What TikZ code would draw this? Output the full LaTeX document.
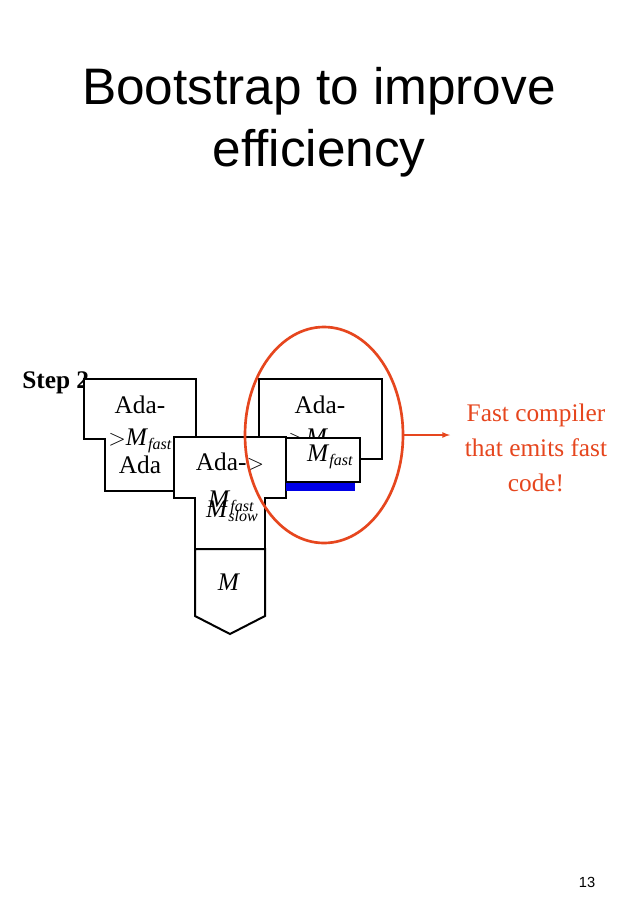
\documentclass[tikz,border=0pt]{standalone}
\usepackage{fontspec}
\setmainfont{Liberation Serif}
\newfontfamily\hel{Liberation Sans}
\definecolor{orng}{RGB}{230,70,30}
\definecolor{bbar}{RGB}{0,0,230}
\newcommand{\Msub}[1]{\textit{M}\raisebox{-0.35ex}{\fontsize{12}{12}\selectfont\textit{#1}}}
\begin{document}
\begin{tikzpicture}[x=0.75pt,y=-0.75pt,
  shp/.style={draw=black,line width=1.5pt,fill=white},
  lbl/.style={inner sep=0pt,font=\fontsize{19}{20}\selectfont},
  red/.style={inner sep=0pt,text=orng,font=\fontsize{19}{26}\selectfont,align=center}]
\useasboundingbox[fill=white] (0,0) rectangle (638,922);
\node[inner sep=0pt,font=\hel\fontsize{38.5}{46.5}\selectfont,align=center] (title) at (319,122) {Bootstrap to improve\\efficiency};
\node[inner sep=0pt,font=\hel\fontsize{11}{13}\selectfont] (pg) at (587,882) {13};
\node[lbl,font=\bfseries\fontsize{19}{20}\selectfont,anchor=west] (step) at (22,383) {Step 2};
% left T
\draw[shp] (84,379)--(196,379)--(196,491)--(105,491)--(105,439)--(84,439)--cycle;
\node[lbl] (l1) at (140,405) {Ada-};
\node[lbl] (l2) at (140,441) {$>$\Msub{fast}};
\node[lbl] (l3) at (140,465) {Ada};
% right T
\draw[shp] (259,379) rectangle (382,459);
\node[lbl] (r1) at (320,405) {Ada-};
\node[lbl] (r2) at (320,441) {$>$\Msub{fast}};
% middle T
\draw[shp] (174,437)--(286,437)--(286,498)--(265,498)--(265,549)--(195,549)--(195,498)--(174,498)--cycle;
\node[lbl] (m1) at (230,462) {Ada-$>$};
\node[lbl] (m2) at (231,503) {\Msub{fast}};
\node[lbl] (m3) at (232,511) {\Msub{slow}};
\draw[shp] (195,549)--(265,549)--(265,616)--(230,634)--(195,616)--cycle;
\node[lbl] (mm) at (229,582) {\textit{M}};
% small box
\fill[bbar] (286,480) rectangle (355,491);
\draw[shp] (286,438) rectangle (360,482);
\node[lbl] (sb) at (330,457) {\Msub{fast}};
% ellipse and arrow
\draw[orng,line width=2pt] (324,435) ellipse [x radius=79,y radius=108];
\coordinate (ee) at (403,435);
\node[red] (txt) at (536,448) {Fast compiler\\that emits fast\\code!};
\draw[orng,line width=1pt,-latex] (ee) -- (450,435);
\end{tikzpicture}
\end{document}
